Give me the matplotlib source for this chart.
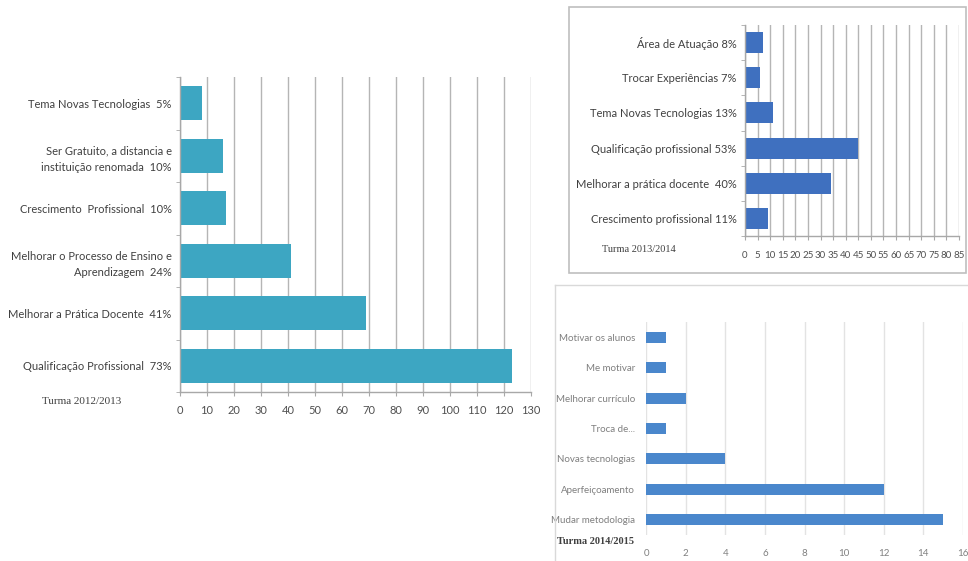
import matplotlib
matplotlib.use("Agg")
import matplotlib.pyplot as plt
from matplotlib.patches import Rectangle
from matplotlib.lines import Line2D
import numpy as np

# ---------------- data ----------------
cat1 = ["Qualificação Profissional  73%",
        "Melhorar a Prática Docente  41%",
        "Melhorar o Processo de Ensino e\nAprendizagem  24%",
        "Crescimento  Profissional  10%",
        "Ser Gratuito, a distancia e\ninstituição renomada  10%",
        "Tema Novas Tecnologias  5%"]
val1 = [123, 69, 41, 17, 16, 8]
ticks1 = list(range(0, 131, 10))

cat2 = ["Crescimento profissional 11%",
        "Melhorar a prática docente  40%",
        "Qualificação profissional 53%",
        "Tema Novas Tecnologias 13%",
        "Trocar Experiências 7%",
        "Área de Atuação 8%"]
val2 = [9, 34, 45, 11, 6, 7]
ticks2 = list(range(0, 86, 5))

cat3 = ["Mudar metodologia", "Aperfeiçoamento", "Novas tecnologias",
        "Troca de...", "Melhorar currículo", "Me motivar", "Motivar os alunos"]
val3 = [15, 12, 4, 1, 2, 1, 1]
ticks3 = list(range(0, 17, 2))

titles = ["Turma 2012/2013", "Turma 2013/2014", "Turma 2014/2015"]

W, H = 968, 561
SANS = ["Lato", "DejaVu Sans"]
SERIF = ["Liberation Serif", "DejaVu Serif"]

fig = plt.figure(figsize=(W / 100, H / 100), dpi=100)
fig.patch.set_facecolor("white")


def fx(px):
    return px / W


def fy(py):
    return 1 - py / H


def box(x0, y0, x1, y1):
    return [fx(x0), fy(y1), fx(x1) - fx(x0), fy(y0) - fy(y1)]


def style_axis(ax, n, xticks, xmax, color_grid, spine_col, show_spines=True,
               tick_fs=8, tick_col="#404040", pad=4):
    ax.set_xlim(0, xmax)
    ax.set_ylim(-0.5, n - 0.5)
    ax.set_xticks(xticks)
    ax.set_xticklabels([str(t) for t in xticks], fontsize=tick_fs,
                       color=tick_col, family=SANS)
    ax.xaxis.grid(True, color=color_grid, linewidth=1.0)
    ax.set_axisbelow(True)
    for s in ["top", "right"]:
        ax.spines[s].set_visible(False)
    if show_spines:
        ax.spines["left"].set_color(spine_col)
        ax.spines["bottom"].set_color(spine_col)
        ax.spines["left"].set_linewidth(1.0)
        ax.spines["bottom"].set_linewidth(1.0)
        ax.tick_params(axis="x", direction="out", length=3, color=spine_col,
                       pad=pad)
        ax.set_yticks(np.arange(-0.5, n, 1.0), minor=True)
        ax.tick_params(axis="y", which="minor", direction="out", length=3,
                       color=spine_col)
    else:
        ax.spines["left"].set_visible(False)
        ax.spines["bottom"].set_visible(False)
        ax.tick_params(axis="x", length=0, pad=pad)
    ax.tick_params(axis="y", which="major", length=0, pad=6)


# ---------------- chart 1 ----------------
ax1 = fig.add_axes(box(180, 77, 531, 392))
y1 = np.arange(len(cat1))
ax1.barh(y1, val1, height=0.65, color="#3DA6C2")
style_axis(ax1, len(cat1), ticks1, 130, "#B5B5B5", "#A8A8A8", tick_fs=8,
           tick_col="#505050", pad=6)
ax1.set_yticks(y1)
ax1.set_yticklabels(cat1, fontsize=8, color="#404040", family=SANS,
                    linespacing=1.6)
fig.text(fx(42), fy(402), titles[0], fontsize=8, family=SERIF,
         color="#404040", va="center", ha="left")

# ---------------- chart 2 ----------------
fig.add_artist(Rectangle((fx(569), fy(273)), fx(966) - fx(569),
                         fy(7) - fy(273), transform=fig.transFigure,
                         fill=False, edgecolor="#BFBFBF", linewidth=1.2))
ax2 = fig.add_axes(box(745, 25, 959, 236))
y2 = np.arange(len(cat2))
ax2.barh(y2, val2, height=0.6, color="#3F70BF")
style_axis(ax2, len(cat2), ticks2, 85, "#B5B5B5", "#A8A8A8", tick_fs=7,
           tick_col="#505050", pad=8)
ax2.set_yticks(y2)
ax2.set_yticklabels(cat2, fontsize=8, color="#404040", family=SANS)
fig.text(fx(602), fy(249), titles[1], fontsize=7.5, family=SERIF,
         color="#404040", va="center", ha="left")

# ---------------- chart 3 ----------------
fig.add_artist(Line2D([fx(555), 1.0], [fy(285), fy(285)],
                      transform=fig.transFigure, color="#D9D9D9",
                      linewidth=1.0))
fig.add_artist(Line2D([fx(555), fx(555)], [fy(285), 0.0],
                      transform=fig.transFigure, color="#D9D9D9",
                      linewidth=1.0))
ax3 = fig.add_axes(box(646, 322, 963, 535))
y3 = np.arange(len(cat3))
ax3.barh(y3, val3, height=0.36, color="#4A87CC")
style_axis(ax3, len(cat3), ticks3, 16, "#E3E3E3", "#D9D9D9",
           show_spines=False, tick_fs=7, tick_col="#808080", pad=10)
ax3.set_yticks(y3)
ax3.set_yticklabels(cat3, fontsize=7, color="#7F7F7F", family=SANS)
ax3.tick_params(axis="y", pad=8)
fig.text(fx(557), fy(542), titles[2], fontsize=7.5, family=SERIF,
         fontweight="bold", color="#404040", va="center", ha="left")

fig.savefig("out.png", dpi=100, facecolor="white")
